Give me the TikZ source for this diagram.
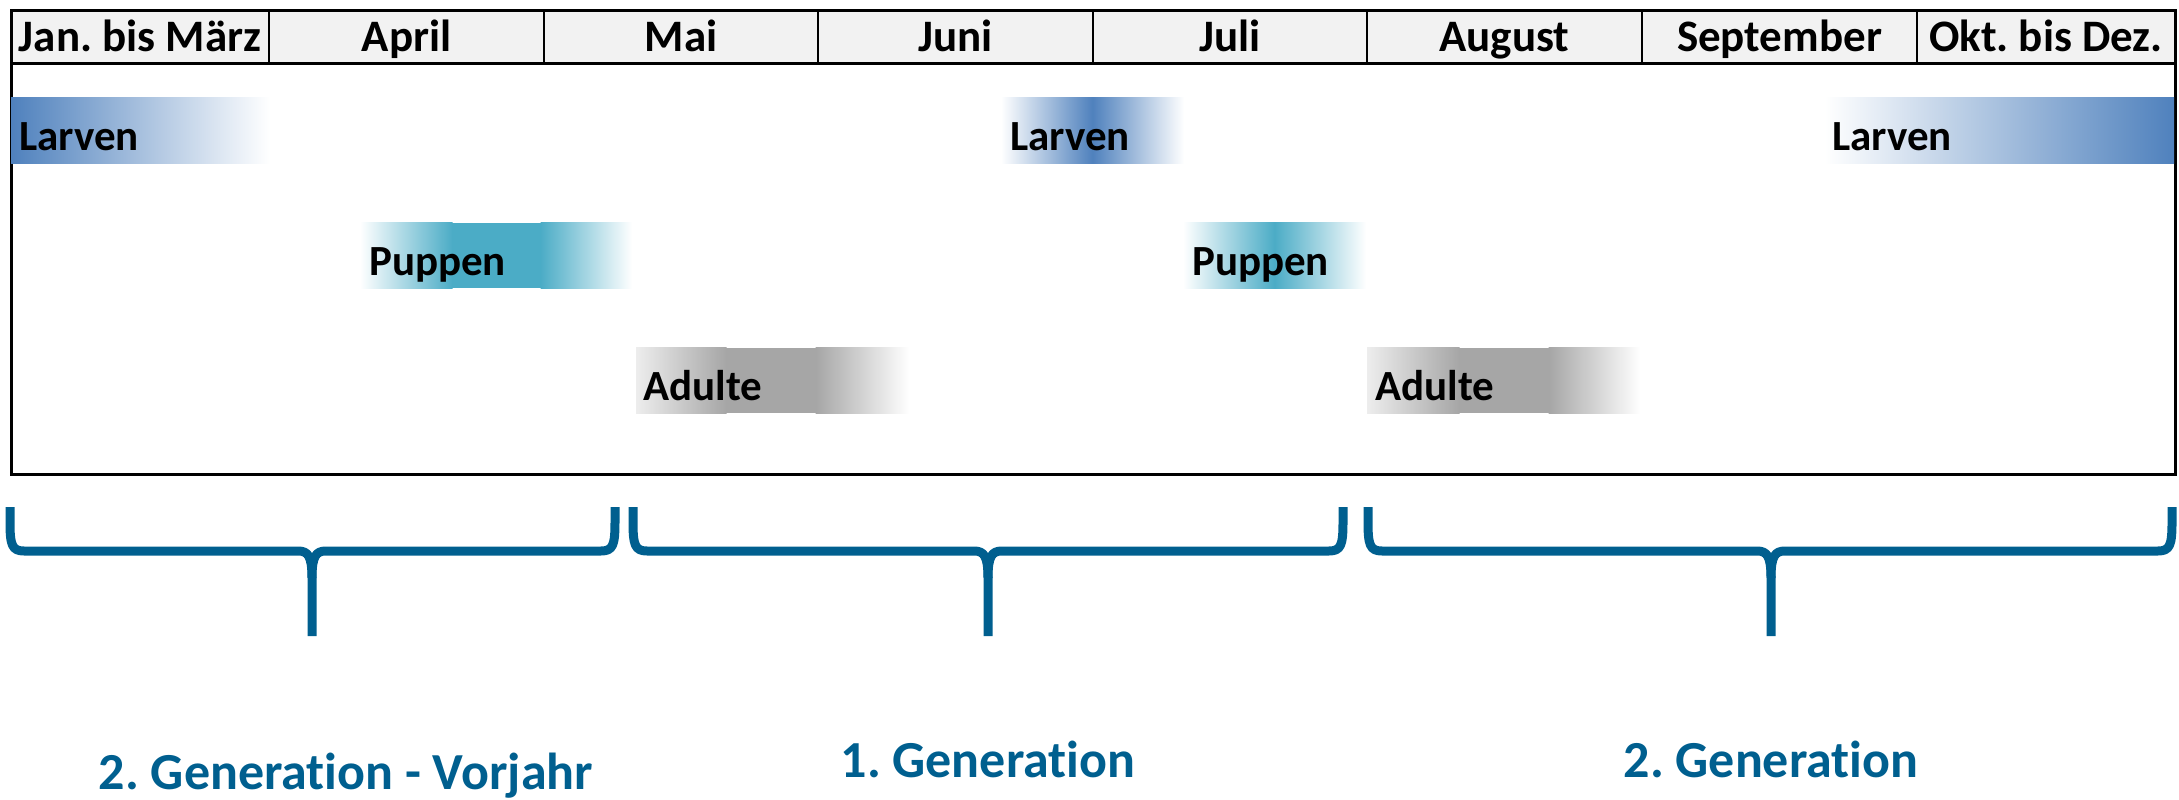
\documentclass[tikz,border=0pt]{standalone}
\usepackage{fontspec}
\setmainfont{Carlito}[Ligatures={NoCommon}]
\frenchspacing
\definecolor{larv}{HTML}{4F81BD}
\definecolor{pupp}{HTML}{4BACC6}
\definecolor{adul}{HTML}{A6A6A6}
\definecolor{gen}{HTML}{005F8F}
\definecolor{hdr}{HTML}{F2F2F2}
\begin{document}
\begin{tikzpicture}[x=1pt,y=-1pt,
  hcell/.style={draw=black, line width=2pt, fill=hdr, minimum height=53pt, inner sep=0pt,
    text height=29pt, text depth=0pt, font=\fontsize{45}{54}\selectfont\bfseries},
  stage/.style={anchor=base west, inner sep=0pt, font=\fontsize{43}{50}\selectfont\bfseries},
  gentext/.style={text=gen, inner sep=0pt, anchor=base, font=\fontsize{52}{60}\selectfont\bfseries},
  bracestyle/.style={draw=gen, line width=9pt, line join=round, line cap=butt}
]
\useasboundingbox (0,0) rectangle (2179,800);

% header cells
\foreach \a/\b/\t/\n in {11/269/{Jan. bis März}/h1, 269/544/April/h2, 544/818/Mai/h3,
  818/1093/Juni/h4, 1093/1367/Juli/h5, 1367/1642/August/h6, 1642/1917/September/h7,
  1917/2175/{Okt. bis Dez.}/h8}{
  \pgfmathsetmacro{\w}{\b-\a}
  \node[hcell, minimum width=\w pt] (\n) at ({(\a+\b)/2},37.5) {\t};
}
\draw[line width=3pt] (11,64) -- (2175,64);
\draw[line width=3pt] (11,11) rectangle (2175,474);

% Larven
\shade[left color=larv, right color=white] (11,97) rectangle (270,163);
\node[stage] (l1) at (19,150) {Larven};
\shade[left color=white, right color=white, middle color=larv] (1001,97) rectangle (1184,163);
\node[stage] (l2) at (1010,150) {Larven};
\shade[left color=white, right color=larv] (1825,97) rectangle (2174,163);
\node[stage] (l3) at (1832,150) {Larven};

% Puppen
\shade[left color=white, right color=pupp] (360,222) rectangle (452.5,288);
\fill[pupp] (452,223) rectangle (541,288);
\shade[left color=pupp, right color=white] (540.5,222) rectangle (632,288);
\node[stage] (p1) at (369,275) {Puppen};
\shade[left color=white, right color=white, middle color=pupp] (1183,222) rectangle (1366,288);
\node[stage] (p2) at (1192,275) {Puppen};

% Adulte
\shade[left color=adul!20, right color=adul] (636,347) rectangle (726.5,413);
\fill[adul] (726,348) rectangle (816,413);
\shade[left color=adul, right color=white] (815.5,347) rectangle (909,413);
\node[stage] (a1) at (643,400) {Adulte};
\shade[left color=adul!20, right color=adul] (1367,347) rectangle (1459.5,413);
\fill[adul] (1459,348) rectangle (1549,413);
\shade[left color=adul, right color=white] (1548.5,347) rectangle (1640,413);
\node[stage] (a2) at (1375,400) {Adulte};

% braces
\foreach \L/\T/\R in {10/312/615, 633/988/1343, 1368/1771/2172}{
  \draw[bracestyle] (\L,507) -- (\L,522) .. controls (\L,545) and (\L+2,551) .. (\L+14,551)
     -- (\T-14,551) .. controls (\T-4,551) and (\T,556) .. (\T,578) -- (\T,636);
  \draw[bracestyle] (\T,578) .. controls (\T,556) and (\T+4,551) .. (\T+14,551)
     -- (\R-14,551) .. controls (\R-2,551) and (\R,545) .. (\R,522) -- (\R,507);
}

% generation labels
\node[gentext] (g0) at (346,789) {2. Generation - Vorjahr};
\node[gentext] (g1) at (988,777) {1. Generation};
\node[gentext] (g2) at (1771,777) {2. Generation};
\end{tikzpicture}
\end{document}
